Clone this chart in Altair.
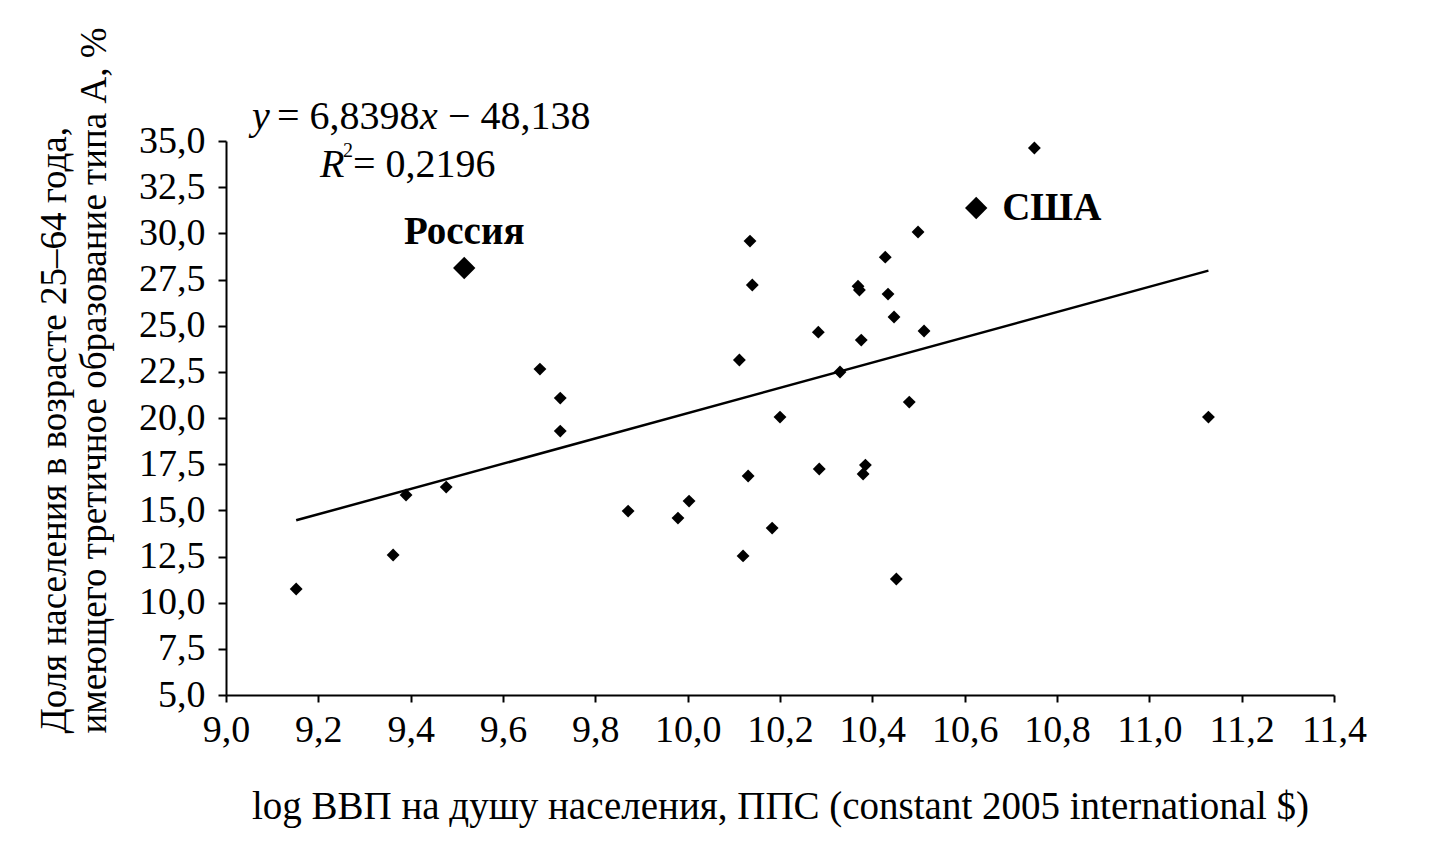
import altair as alt
import pandas as pd

# log ВВП на душу населения (ППС) и доля населения с третичным образованием типа А
gdp_log = [9.152, 9.362, 9.390, 9.477, 9.680, 9.724, 9.724, 9.871, 9.979, 10.003,
           10.112, 10.120, 10.135, 10.140, 10.131, 10.183, 10.200, 10.283, 10.285,
           10.330, 10.369, 10.372, 10.376, 10.385, 10.380, 10.428, 10.434, 10.447,
           10.452, 10.480, 10.499, 10.512, 10.751, 11.128]
tertiary_share = [10.74, 12.58, 15.83, 16.26, 22.65, 21.08, 19.29, 14.96, 14.58, 15.50,
                  23.14, 12.53, 29.58, 27.20, 16.86, 14.04, 20.05, 24.65, 17.24,
                  22.49, 27.14, 26.93, 24.22, 17.45, 16.97, 28.71, 26.71, 25.47,
                  11.28, 20.86, 30.07, 24.71, 34.62, 20.05]

# выделенные страны
countries = ["Россия", "США"]
countries_x = [9.516, 10.625]
countries_y = [28.12, 31.37]

# линия тренда (концы)
trend_x = [9.152, 11.128]
trend_y = [14.46, 27.98]

x_ticks = [9.0, 9.2, 9.4, 9.6, 9.8, 10.0, 10.2, 10.4, 10.6, 10.8, 11.0, 11.2, 11.4]
y_ticks = [5.0, 7.5, 10.0, 12.5, 15.0, 17.5, 20.0, 22.5, 25.0, 27.5, 30.0, 32.5, 35.0]

FONT = "Liberation Serif"

points_df = pd.DataFrame({"x": gdp_log, "y": tertiary_share})
hl_df = pd.DataFrame({"x": countries_x, "y": countries_y, "name": countries})
trend_df = pd.DataFrame({"x": trend_x, "y": trend_y})

# уравнение регрессии кусками: курсив отдельно, обычный текст отдельно
eq_italic = pd.DataFrame({"x": [9.0563, 9.4202, 9.2036], "y": [36.29, 36.29, 33.70],
                          "t": ["y", "x", "R"]})
eq_plain = pd.DataFrame({"x": [9.1105, 9.4809, 9.2751], "y": [36.29, 36.29, 33.70],
                         "t": ["= 6,8398", "\u2212 48,138", "= 0,2196"]})
eq_sup = pd.DataFrame({"x": [9.2534], "y": [34.45], "t": ["2"]})

x_scale = alt.Scale(domain=[9.0, 11.4], nice=False, zero=False)
y_scale = alt.Scale(domain=[5.0, 35.0], nice=False, zero=False)

comma_fmt = "replace(format(datum.value, '.1f'), '.', ',')"

x_enc = alt.X(
    "x:Q", scale=x_scale,
    title="log ВВП на душу населения, ППС (constant 2005 international $)",
    axis=alt.Axis(values=x_ticks, labelExpr=comma_fmt, titlePadding=38, tickSize=7,
                  labelPadding=9, labelFlush=False, titleFontSize=39),
)
y_enc = alt.Y(
    "y:Q", scale=y_scale,
    title=["Доля населения в возрасте 25–64 года,",
           "имеющего третичное образование типа А, %"],
    axis=alt.Axis(values=y_ticks, labelExpr=comma_fmt, tickSize=8, labelPadding=13,
                  labelFlush=False, titleAngle=270, titleAlign="left",
                  titleBaseline="top", titleX=-190, titleY=592, titleLineHeight=40,
                  titleFontSize=37),
)

points = alt.Chart(points_df).mark_point(
    shape="diamond", filled=True, color="black", size=165, opacity=1
).encode(x=x_enc, y=y_enc)

highlight = alt.Chart(hl_df).mark_point(
    shape="diamond", filled=True, color="black", size=500, opacity=1
).encode(x="x:Q", y="y:Q")

trend = alt.Chart(trend_df).mark_line(color="black", strokeWidth=2.5).encode(
    x="x:Q", y="y:Q"
)

russia_lbl = alt.Chart(hl_df.iloc[[0]]).mark_text(
    font=FONT, fontSize=39, fontWeight="bold", align="center", baseline="middle",
    dy=-36, color="black"
).encode(x="x:Q", y="y:Q", text="name:N")

usa_lbl = alt.Chart(hl_df.iloc[[1]]).mark_text(
    font=FONT, fontSize=39, fontWeight="bold", align="left", baseline="middle",
    dx=26, color="black"
).encode(x="x:Q", y="y:Q", text="name:N")

eq_i = alt.Chart(eq_italic).mark_text(
    font=FONT, fontSize=40, fontStyle="italic", align="left", baseline="middle",
    color="black"
).encode(x="x:Q", y="y:Q", text="t:N")

eq_p = alt.Chart(eq_plain).mark_text(
    font=FONT, fontSize=40, align="left", baseline="middle", color="black"
).encode(x="x:Q", y="y:Q", text="t:N")

eq_s = alt.Chart(eq_sup).mark_text(
    font=FONT, fontSize=20, align="left", baseline="middle", color="black"
).encode(x="x:Q", y="y:Q", text="t:N")

chart = (
    alt.layer(trend, points, highlight, russia_lbl, usa_lbl, eq_i, eq_p, eq_s)
    .properties(
        width=1108, height=554,
        autosize=alt.AutoSizeParams(type="none"),
        padding={"left": 218, "top": 133, "right": 90, "bottom": 138},
        background="white",
    )
    .configure_view(strokeWidth=0)
    .configure_axis(
        grid=False, domainColor="black", domainWidth=2, tickColor="black", tickWidth=2,
        labelFont=FONT, labelFontSize=38, labelColor="black",
        titleFont=FONT, titleFontWeight="normal", titleColor="black",
    )
)

chart.save("out.html", embed_options={"renderer": "svg", "actions": False})
